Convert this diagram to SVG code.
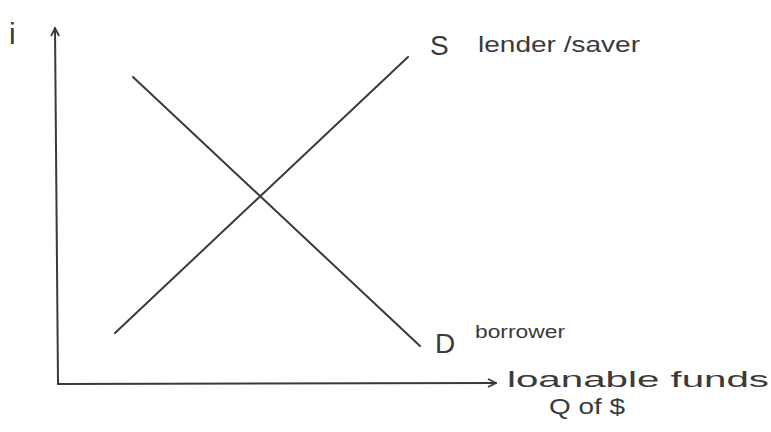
<svg xmlns="http://www.w3.org/2000/svg" width="771" height="432" viewBox="0 0 771 432">
<style>
.ln{stroke:#3a3a3a;stroke-width:2;fill:none;stroke-linecap:round}
.t{font-family:"Liberation Sans",Arial,sans-serif;fill:#3a3a3a}
</style>
<defs>
<marker id="ah" viewBox="0 0 10 10" refX="9" refY="5" markerWidth="10" markerHeight="10" markerUnits="userSpaceOnUse" orient="auto">
<path d="M1,1 L9,5 L1,9" fill="none" stroke="#3a3a3a" stroke-width="1.8"/>
</marker>
</defs>
<rect width="771" height="432" fill="#fff"/>
<g id="connectors">
<line class="ln" x1="58" y1="384" x2="55" y2="28" marker-end="url(#ah)"/>
<line class="ln" x1="58" y1="384" x2="496" y2="383" marker-end="url(#ah)"/>
<line id="supply" class="ln" x1="115" y1="333" x2="408" y2="57"/>
<line id="demand" class="ln" x1="133" y1="77" x2="420" y2="346"/>
</g>
<g id="axis-i"><text class="t" x="9" y="44" font-size="30">i</text></g>
<g id="S"><text class="t" x="430" y="55" font-size="28">S</text><text class="t" x="478" y="52" font-size="22" textLength="162" lengthAdjust="spacingAndGlyphs">lender /saver</text></g>
<g id="D"><text class="t" x="435" y="353" font-size="28">D</text><text class="t" x="475" y="338" font-size="18" textLength="90" lengthAdjust="spacingAndGlyphs">borrower</text></g>
<g id="xlabel"><text class="t" x="507" y="387" font-size="22" textLength="262" lengthAdjust="spacingAndGlyphs">loanable funds</text><text class="t" x="549" y="414" font-size="22" textLength="76" lengthAdjust="spacingAndGlyphs">Q of $</text></g>
</svg>
